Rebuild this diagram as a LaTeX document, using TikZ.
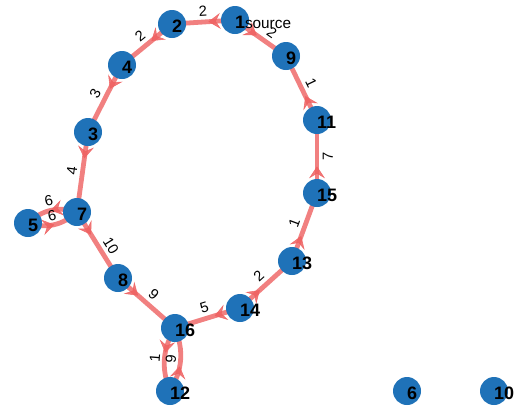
\documentclass[tikz,border=0pt]{standalone}
\usepackage{fontspec}
\setmainfont{Liberation Sans}
\usepackage{tikz}
\usetikzlibrary{arrows.meta,decorations.markings,backgrounds}

\definecolor{nodeblue}{RGB}{31,114,184}
\definecolor{edgered}{RGB}{238,96,96}
\newcommand{\nlab}[1]{\makebox[0pt][l]{#1}}

\begin{document}
\begin{tikzpicture}[x=0.75pt, y=-0.75pt,
        vert/.style={circle, fill=nodeblue, minimum size=21pt, inner sep=0pt, text height=12pt, text depth=0pt, font=\bfseries\fontsize{13.5}{13.5}\selectfont},
        edge/.style={draw=edgered, draw opacity=0.8, line width=3.6pt, postaction={decorate},
            decoration={markings, mark=at position 20pt with {\arrow[edgered, opacity=0.85]{Stealth[length=9pt, width=12pt, inset=3.5pt, line width=0.4pt]}}}},
        elab/.style={font=\fontsize{11}{11}\selectfont, sloped, inner sep=2.5pt}
    ]
    \useasboundingbox (0,0) rectangle (517,408);

    % Vertices
    \node[vert] (n1) at (235,20) {\nlab{1{\mdseries\fontsize{11.5}{11.5}\selectfont source}}};
    \node[vert] (n2) at (172,24) {\nlab{2}};
    \node[vert] (n9) at (286,56) {\nlab{9}};
    \node[vert] (n4) at (122,65) {\nlab{4}};
    \node[vert] (n11) at (317,120) {\nlab{11}};
    \node[vert] (n3) at (88,132) {\nlab{3}};
    \node[vert] (n15) at (317,193) {\nlab{15}};
    \node[vert] (n7) at (77,212) {\nlab{7}};
    \node[vert] (n5) at (28,223) {\nlab{5}};
    \node[vert] (n13) at (292,261) {\nlab{13}};
    \node[vert] (n8) at (118,278) {\nlab{8}};
    \node[vert] (n14) at (240,308) {\nlab{14}};
    \node[vert] (n16) at (175,328) {\nlab{16}};
    \node[vert] (n12) at (170,391) {\nlab{12}};
    \node[vert] (n6) at (407,391) {\nlab{6}};
    \node[vert] (n10) at (494,391) {\nlab{10}};

    % Weighted arcs
    \begin{scope}[on background layer]
    \draw[edge] (n1.center) -- node[elab, above] {2} (n2.center);
    \draw[edge] (n1.center) -- node[elab, above, pos=0.6] {2} (n9.center);
    \draw[edge] (n2.center) -- node[elab, above] {2} (n4.center);
    \draw[edge] (n4.center) -- node[elab, above] {3} (n3.center);
    \draw[edge] (n3.center) -- node[elab, above] {4} (n7.center);
    \draw[edge] (n7.center) to[bend right=30] node[elab, above, inner sep=1.5pt] {6} (n5.center);
    \draw[edge] (n5.center) to[bend right=30] node[elab, above, inner sep=1.5pt] {6} (n7.center);
    \draw[edge] (n7.center) -- node[elab, above, pos=0.6] {10} (n8.center);
    \draw[edge] (n8.center) -- node[elab, above] {9} (n16.center);
    \draw[edge] (n14.center) -- node[elab, above] {5} (n16.center);
    \draw[edge] (n14.center) -- node[elab, above] {2} (n13.center);
    \draw[edge] (n13.center) -- node[elab, above] {1} (n15.center);
    \draw[edge] (n15.center) -- node[elab, below] {7} (n11.center);
    \draw[edge] (n11.center) -- node[elab, above] {1} (n9.center);
    \draw[edge] (n16.center) to[bend right=26] node[elab, above, inner sep=1.5pt] {1} (n12.center);
    \draw[edge] (n12.center) to[bend right=26] node[elab, above, inner sep=1.5pt] {9} (n16.center);
    \end{scope}

\end{tikzpicture}
\end{document}
